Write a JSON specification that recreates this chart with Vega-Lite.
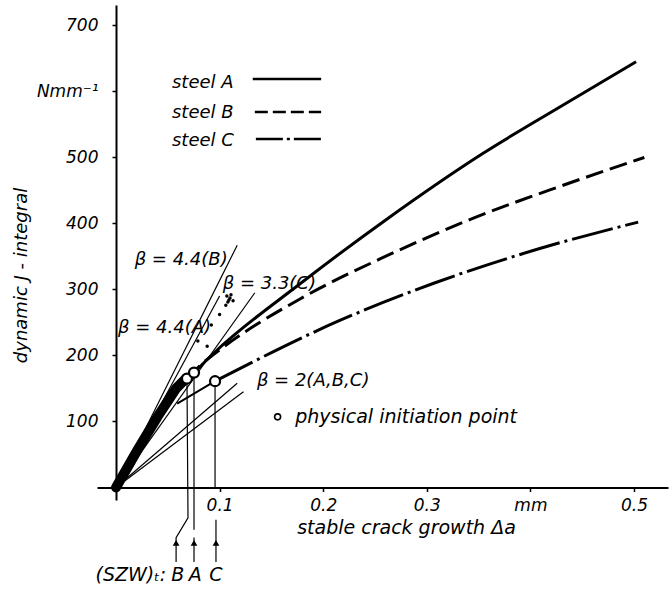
{
  "$schema": "https://vega.github.io/schema/vega-lite/v6.json",
  "width": 571,
  "height": 495,
  "autosize": {"type": "none"},
  "padding": {"left": 97, "top": 5, "right": 2, "bottom": 92},
  "background": "white",
  "config": {
    "view": {"stroke": null},
    "font": "DejaVu Sans",
    "text": {"font": "DejaVu Sans", "fontStyle": "italic", "fontSize": 18, "color": "black"}
  },
  "datasets": {
    "curves": [
      {"steel": "A", "x": 0.0753, "y": 174}, {"steel": "A", "x": 0.094, "y": 203}, {"steel": "A", "x": 0.178, "y": 309}, {"steel": "A", "x": 0.26, "y": 405}, {"steel": "A", "x": 0.354, "y": 506}, {"steel": "A", "x": 0.43, "y": 578}, {"steel": "A", "x": 0.502, "y": 645},
      {"steel": "B", "x": 0.0685, "y": 165}, {"steel": "B", "x": 0.085, "y": 190}, {"steel": "B", "x": 0.103, "y": 212}, {"steel": "B", "x": 0.178, "y": 286}, {"steel": "B", "x": 0.26, "y": 350}, {"steel": "B", "x": 0.345, "y": 408}, {"steel": "B", "x": 0.43, "y": 457}, {"steel": "B", "x": 0.510, "y": 500},
      {"steel": "C", "x": 0.0956, "y": 161}, {"steel": "C", "x": 0.216, "y": 253}, {"steel": "C", "x": 0.306, "y": 309}, {"steel": "C", "x": 0.409, "y": 362}, {"steel": "C", "x": 0.504, "y": 402}
    ],
    "legendLines": [
      {"steel": "A", "x": 0.132, "y": 619}, {"steel": "A", "x": 0.198, "y": 619},
      {"steel": "B", "x": 0.134, "y": 569}, {"steel": "B", "x": 0.198, "y": 569},
      {"steel": "C", "x": 0.135, "y": 528}, {"steel": "C", "x": 0.198, "y": 528}
    ],
    "band": [
      {"x": 0, "y": 0}, {"x": 0.02, "y": 55}, {"x": 0.04, "y": 107}, {"x": 0.058, "y": 150}, {"x": 0.068, "y": 166}
    ],
    "thin": [
      {"id": "b44B", "o": 0, "x": 0, "y": 0}, {"id": "b44B", "o": 1, "x": 0.117, "y": 367},
      {"id": "b44A", "o": 0, "x": 0, "y": 0}, {"id": "b44A", "o": 1, "x": 0.100, "y": 290},
      {"id": "b33C", "o": 0, "x": 0, "y": 0}, {"id": "b33C", "o": 1, "x": 0.134, "y": 295},
      {"id": "b2a", "o": 0, "x": 0, "y": 0}, {"id": "b2a", "o": 1, "x": 0.117, "y": 158},
      {"id": "b2b", "o": 0, "x": 0, "y": 0}, {"id": "b2b", "o": 1, "x": 0.123, "y": 145},
      {"id": "cB", "o": 0, "x": 0.0685, "y": 165}, {"id": "cB", "o": 1, "x": 0.0695, "y": -46}, {"id": "cB", "o": 2, "x": 0.058, "y": -76}, {"id": "cB", "o": 3, "x": 0.058, "y": -113},
      {"id": "cA", "o": 0, "x": 0.0753, "y": 174}, {"id": "cA", "o": 1, "x": 0.0753, "y": -64},
      {"id": "sA", "o": 0, "x": 0.0753, "y": -76}, {"id": "sA", "o": 1, "x": 0.0753, "y": -113},
      {"id": "cC1", "o": 0, "x": 0.0956, "y": 161}, {"id": "cC1", "o": 1, "x": 0.0956, "y": -2},
      {"id": "cC2", "o": 0, "x": 0.0965, "y": -49}, {"id": "cC2", "o": 1, "x": 0.0965, "y": -113}
    ],
    "cpre": [
      {"x": 0.059, "y": 127}, {"x": 0.0956, "y": 161}
    ],
    "scatter": [
      {"x": 0.108, "y": 281}, {"x": 0.110, "y": 287}, {"x": 0.106, "y": 276}, {"x": 0.111, "y": 292}, {"x": 0.109, "y": 284}, {"x": 0.107, "y": 290}, {"x": 0.113, "y": 283},
      {"x": 0.092, "y": 246}, {"x": 0.088, "y": 214}, {"x": 0.079, "y": 222}, {"x": 0.100, "y": 262}
    ],
    "arrows": [
      {"x": 0.058, "y": -84}, {"x": 0.0753, "y": -84}, {"x": 0.0965, "y": -84}
    ],
    "init": [
      {"steel": "B", "x": 0.0685, "y": 165}, {"steel": "A", "x": 0.0753, "y": 174}, {"steel": "C", "x": 0.0956, "y": 161}, {"steel": "key", "x": 0.156, "y": 107}
    ],
    "labelsLeft": [
      {"label": "steel A", "x": 0.054, "y": 613},
      {"label": "steel B", "x": 0.054, "y": 567},
      {"label": "steel C", "x": 0.054, "y": 525},
      {"label": "β = 4.4(B)", "x": 0.018, "y": 345},
      {"label": "β = 3.3(C)", "x": 0.103, "y": 308},
      {"label": "β = 4.4(A)", "x": 0.002, "y": 242},
      {"label": "β = 2(A,B,C)", "x": 0.136, "y": 161}
    ],
    "labelsWide": [
      {"label": "physical   initiation   point", "x": 0.173, "y": 107}
    ],
    "labelsBottom": [
      {"label": "(SZW)ₜ:", "x": 0.0485, "y": -133, "a": "right"},
      {"label": "B", "x": 0.0595, "y": -133, "a": "center"},
      {"label": "A", "x": 0.0765, "y": -133, "a": "center"},
      {"label": "C", "x": 0.0965, "y": -133, "a": "center"}
    ]
  },
  "encoding": {
    "x": {
      "field": "x", "type": "quantitative",
      "scale": {"domain": [-0.01834, 0.5328], "nice": false, "zero": false},
      "axis": {
        "values": [0.1, 0.2, 0.3, 0.4, 0.5],
        "labelExpr": "datum.value == 0.4 ? 'mm' : format(datum.value, '.1f')",
        "offset": -12.5, "grid": false, "domainColor": "black", "domainWidth": 2,
        "tickColor": "black", "tickWidth": 1.5, "tickSize": 4, "labelPadding": 6,
        "labelFont": "DejaVu Sans", "labelFontStyle": "italic", "labelFontSize": 17, "labelColor": "black",
        "labelOverlap": false, "labelFlush": false,
        "title": "stable crack growth Δa", "titleFont": "DejaVu Sans", "titleFontStyle": "italic", "titleFontWeight": "normal",
        "titleFontSize": 19, "titleColor": "black", "titleX": 309, "titleY": 40, "titleAlign": "center", "titleBaseline": "middle", "titleAnchor": null
      }
    },
    "y": {
      "field": "y", "type": "quantitative",
      "scale": {"domain": [-19, 731], "nice": false, "zero": false},
      "axis": {
        "values": [100, 200, 300, 400, 500, 600, 700],
        "labelExpr": "datum.value == 600 ? 'Nmm⁻¹' : datum.label",
        "offset": -19, "grid": false, "domainColor": "black", "domainWidth": 2,
        "tickColor": "black", "tickWidth": 1.5, "tickSize": 4, "labelPadding": 14,
        "labelFont": "DejaVu Sans", "labelFontStyle": "italic", "labelFontSize": 17, "labelColor": "black",
        "labelOverlap": false, "labelFlush": false,
        "title": "dynamic J - integral", "titleFont": "DejaVu Sans", "titleFontStyle": "italic", "titleFontWeight": "normal",
        "titleFontSize": 18, "titleColor": "black", "titleX": -95, "titleY": 270, "titleAngle": -90, "titleAlign": "center", "titleBaseline": "middle", "titleAnchor": null
      }
    }
  },
  "layer": [
    {"data": {"name": "thin"}, "mark": {"type": "line", "color": "black", "strokeWidth": 1.2}, "encoding": {"detail": {"field": "id"}, "order": {"field": "o", "type": "quantitative"}}},
    {"data": {"name": "cpre"}, "mark": {"type": "line", "color": "black", "strokeWidth": 2}, "encoding": {}},
    {"data": {"name": "band"}, "mark": {"type": "line", "color": "black", "strokeWidth": 10, "strokeCap": "round"}, "encoding": {}},
    {"data": {"name": "scatter"}, "mark": {"type": "point", "filled": true, "color": "black", "size": 12, "opacity": 1}, "encoding": {}},
    {"data": {"name": "curves"}, "transform": [{"filter": "datum.steel == 'A'"}], "mark": {"type": "line", "color": "black", "strokeWidth": 3, "interpolate": "monotone"}, "encoding": {}},
    {"data": {"name": "curves"}, "transform": [{"filter": "datum.steel == 'B'"}], "mark": {"type": "line", "color": "black", "strokeWidth": 3, "strokeDash": [18, 7], "interpolate": "monotone"}, "encoding": {}},
    {"data": {"name": "curves"}, "transform": [{"filter": "datum.steel == 'C'"}], "mark": {"type": "line", "color": "black", "strokeWidth": 3, "strokeDash": [42, 5, 3, 5], "interpolate": "monotone"}, "encoding": {}},
    {"data": {"name": "legendLines"}, "transform": [{"filter": "datum.steel == 'A'"}], "mark": {"type": "line", "color": "black", "strokeWidth": 2.5}, "encoding": {}},
    {"data": {"name": "legendLines"}, "transform": [{"filter": "datum.steel == 'B'"}], "mark": {"type": "line", "color": "black", "strokeWidth": 2.5, "strokeDash": [13, 5]}, "encoding": {}},
    {"data": {"name": "legendLines"}, "transform": [{"filter": "datum.steel == 'C'"}], "mark": {"type": "line", "color": "black", "strokeWidth": 2.5, "strokeDash": [27, 4, 3, 4]}, "encoding": {}},
    {"data": {"name": "arrows"}, "mark": {"type": "point", "shape": "triangle-up", "filled": true, "color": "black", "size": 45, "opacity": 1}, "encoding": {}},
    {"data": {"name": "init"}, "transform": [{"filter": "datum.steel != 'key'"}], "mark": {"type": "point", "shape": "circle", "filled": true, "fill": "white", "stroke": "black", "strokeWidth": 2.2, "size": 100, "opacity": 1}, "encoding": {}},
    {"data": {"name": "init"}, "transform": [{"filter": "datum.steel == 'key'"}], "mark": {"type": "point", "shape": "circle", "filled": true, "fill": "white", "stroke": "black", "strokeWidth": 1.6, "size": 36, "opacity": 1}, "encoding": {}},
    {"data": {"name": "labelsLeft"}, "mark": {"type": "text", "align": "left", "baseline": "middle"}, "encoding": {"text": {"field": "label"}}},
    {"data": {"name": "labelsWide"}, "mark": {"type": "text", "align": "left", "baseline": "middle", "fontSize": 19}, "encoding": {"text": {"field": "label"}}},
    {"data": {"name": "labelsBottom"}, "transform": [{"filter": "datum.a == 'right'"}], "mark": {"type": "text", "align": "right", "baseline": "middle", "fontSize": 19}, "encoding": {"text": {"field": "label"}}},
    {"data": {"name": "labelsBottom"}, "transform": [{"filter": "datum.a == 'center'"}], "mark": {"type": "text", "align": "center", "baseline": "middle", "fontSize": 19}, "encoding": {"text": {"field": "label"}}}
  ]
}
